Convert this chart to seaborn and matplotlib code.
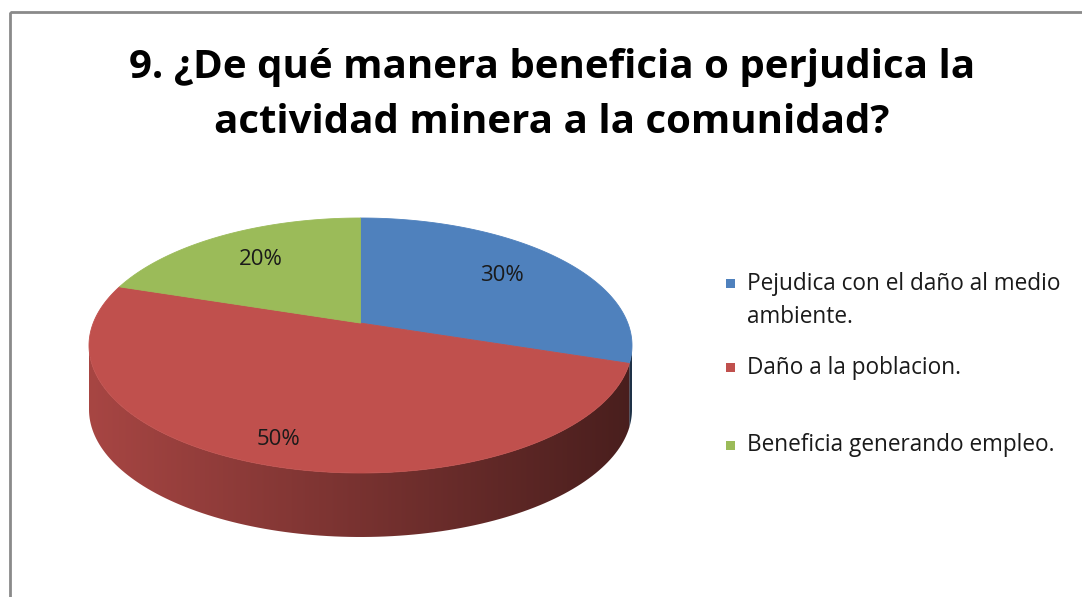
import numpy as np
import matplotlib
matplotlib.use("Agg")
import matplotlib.pyplot as plt
from matplotlib.patches import Polygon, Rectangle
import seaborn as sns

# Data
title_lines = ["9. ¿De qué manera beneficia o perjudica la",
               "actividad minera a la comunidad?"]
categories = ["Pejudica con el daño al medio\nambiente.",
              "Daño a la poblacion.",
              "Beneficia generando empleo."]
shares = [30, 50, 20]
slice_colors = ["#4F81BD", "#C0504D", "#9BBB59"]

sns.set_theme(style="white")
plt.rcParams["font.family"] = ["Open Sans", "DejaVu Sans"]
palette = sns.color_palette(slice_colors)

W, H = 1082, 597
fig = plt.figure(figsize=(W / 100, H / 100), dpi=100)
ax = fig.add_axes([0, 0, 1, 1])
ax.set_xlim(0, W)
ax.set_ylim(H, 0)
ax.axis("off")

# chart frame (only top and left edges are inside the picture)
ax.add_patch(Rectangle((10, 12), W, H, fill=False, edgecolor="#8a8a8a", lw=2))

# pie geometry (pixels) and perspective tilt
cx, cy, rx, ry, depth = 360.5, 345.5, 271.5, 127.5, 64
tilt = 0.176
label_r = [0.7, 0.85, 0.7]


def proj(theta, r=1.0):
    t = np.radians(theta)
    u, v = r * np.cos(t), r * np.sin(t)
    den = 1 + tilt * v
    up = u * np.sqrt(1 - tilt ** 2) / den
    vp = (v + tilt) / den
    return cx + rx * up, cy - ry * vp


# slices start at 12 o'clock and go clockwise
frac = np.array(shares) / sum(shares)
ends = 90 - 360 * np.cumsum(frac)
starts = np.r_[90, ends[:-1]]

# front part of the side wall lies between the two silhouette points
sil = np.degrees(np.arcsin(-tilt))
front_lo, front_hi = -180 - sil, sil

shade = np.linspace(0.87, 0.38, 256)
for a0, a1, col in zip(starts, ends, palette):
    lo, hi = max(a1, front_lo), min(a0, front_hi)
    if hi <= lo:
        continue
    th = np.linspace(hi, lo, 120)
    xs, ys = proj(th)
    pts = np.column_stack([np.r_[xs, xs[::-1]], np.r_[ys, ys[::-1] + depth]])
    poly = Polygon(pts, closed=True, facecolor="none", edgecolor="none")
    ax.add_patch(poly)
    grad = (np.array(col)[None, None, :] * shade[None, :, None]).clip(0, 1)
    im = ax.imshow(grad, extent=(cx - rx, cx + rx, cy + ry + depth + 5, cy - ry - 5),
                   aspect="auto", interpolation="bilinear", zorder=1)
    im.set_clip_path(poly)

# top face
ax_x, ax_y = proj(0, 0)
for a0, a1, col in zip(starts, ends, palette):
    th = np.linspace(a0, a1, 200)
    xs, ys = proj(th)
    ax.fill(np.r_[ax_x, xs], np.r_[ax_y, ys], color=col, lw=0.6,
            edgecolor=col, zorder=2)

# percentage labels
for a0, a1, p, r in zip(starts, ends, shares, label_r):
    lx, ly = proj((a0 + a1) / 2, r)
    ax.text(lx, ly, f"{p}%", ha="center", va="center", fontsize=16,
            color="#1a1a1a", zorder=3)

# title
for i, line in enumerate(title_lines):
    ax.text(552, 78 + 55 * i, line, ha="center", va="baseline",
            fontsize=29, fontweight="bold", color="black")

# legend
sq_y = [283, 367, 445]
base_y = [290, 374, 451]
for cat, col, sy, by in zip(categories, palette, sq_y, base_y):
    ax.add_patch(Rectangle((726, sy - 4.5), 9, 9, facecolor=col, edgecolor="none"))
    for j, line in enumerate(cat.split("\n")):
        ax.text(747, by + 33 * j, line, ha="left", va="baseline",
                fontsize=16.3, color="#1a1a1a")

fig.savefig("out.png", dpi=100, facecolor="white")
